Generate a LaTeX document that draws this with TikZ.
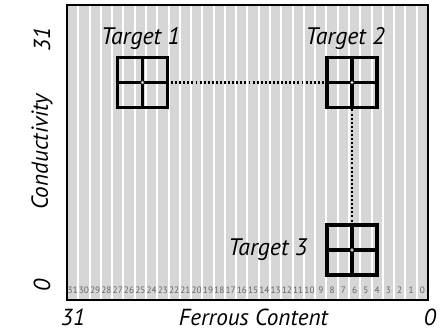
\documentclass[tikz,border=0pt]{standalone}
\usepackage{fontspec}
\setmainfont{PT Sans}
\usepackage{tikz}
\usetikzlibrary{positioning}
\definecolor{StripeGray}{RGB}{214,214,214}
\definecolor{BinText}{RGB}{100,100,100}

\begin{document}
\begin{tikzpicture}[
        target/.style={draw, line width=2.8pt, minimum size=1.25cm, inner sep=0pt},
        tlabel/.style={font=\fontsize{17}{18}\selectfont\itshape, inner sep=1pt},
        axlabel/.style={font=\fontsize{16.5}{18}\selectfont\itshape, inner sep=0pt},
        bin/.style={font=\fontsize{6.6}{7}\selectfont, text=BinText, inner sep=0pt},
        link/.style={line width=1.5pt, dash pattern=on 1.4pt off 1.5pt}
]
    \useasboundingbox (-1.675,-0.775) rectangle (9.475,7.5);
    % striped plane, 32 ferrous bins
    \fill[white] (0,0) rectangle (9.025,7.375);
    \foreach \i in {0,...,31}{
        \fill[StripeGray] ({\i*0.282+0.025},0) rectangle ({(\i+1)*0.282-0.025},7.375);
        \pgfmathtruncatemacro{\bnum}{31-\i}
        \node[bin] (b\i) at ({(\i+0.5)*0.282},0.25) {\bnum};
    }
    \draw[line width=2pt] (0,0) rectangle (9.025,7.375);

    % targets
    \node[target] (t1) at (1.8875,5.4375) {};
    \node[target] (t2) at (7.125,5.4375) {};
    \node[target] (t3) at (7.125,1.25) {};
    \draw[link] (t1.center) -- (t2.center) -- (t3.center);
    \foreach \t in {t1,t2,t3}{
        \draw[line width=2.2pt] (\t.north) -- (\t.south);
        \draw[line width=2.2pt] (\t.west) -- (\t.east);
        \filldraw[fill=white, draw=gray, line width=0.4pt] (\t.center) circle (0.04);
    }
    \node[tlabel, above=0.1cm of t1, xshift=-0.05cm] (l1) {Target 1};
    \node[tlabel, above=0.1cm of t2, xshift=-0.17cm] (l2) {Target 2};
    \node[tlabel, left=0.4cm of t3] (l3) {Target 3};

    % axes
    \node[axlabel] (xmax) at (0.15,-0.425) {31};
    \node[axlabel] (xlab) at (4.66,-0.425) {Ferrous Content};
    \node[axlabel] (xmin) at (9.075,-0.425) {0};
    \node[axlabel, rotate=90] (ymax) at (-0.625,6.525) {31};
    \node[axlabel, rotate=90] (ylab) at (-0.625,3.7) {Conductivity};
    \node[axlabel, rotate=90] (ymin) at (-0.625,0.375) {0};
\end{tikzpicture}
\end{document}
